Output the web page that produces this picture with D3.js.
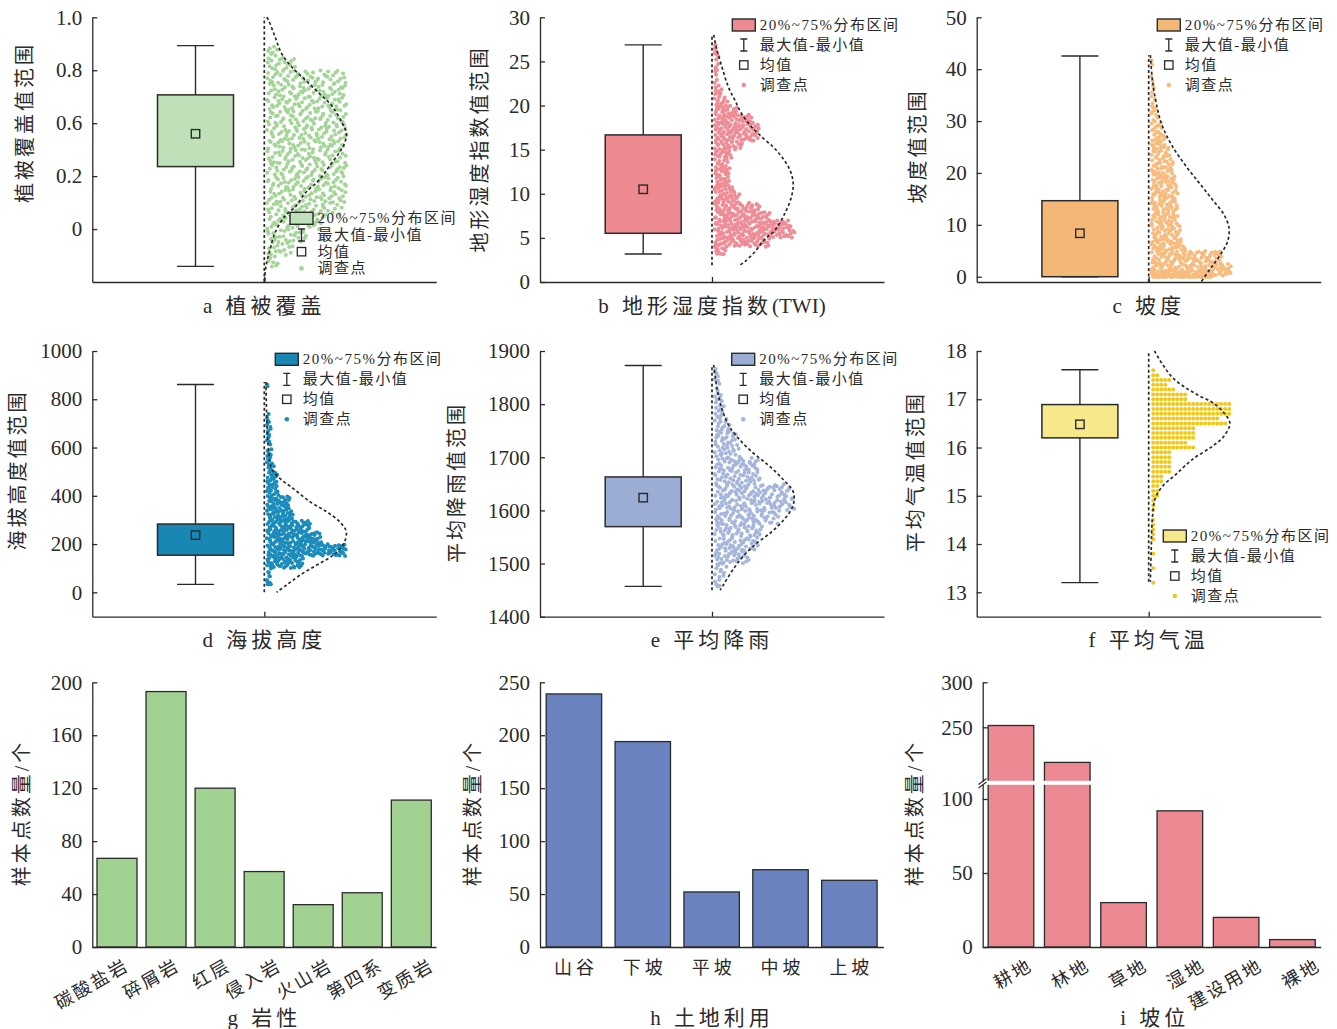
<!DOCTYPE html>
<html><head><meta charset="utf-8">
<script src="https://cdn.jsdelivr.net/npm/d3@7/dist/d3.min.js"></script>
<style>
body{margin:0;background:#fff;}
svg{display:block;font-family:"Liberation Serif","Noto Sans CJK SC",serif;}
</style></head><body>
<svg id="c" width="1337" height="1029"></svg>
<script>
// ---------------- DATA ----------------
const panelTitles = [["a 植被覆盖",""],["b 地形湿度指数","(TWI)"],["c 坡度",""],["d 海拔高度",""],["e 平均降雨",""],["f 平均气温",""],["g 岩性",""],["h 土地利用",""],["i 坡位",""]];
const yTitles = ["植被覆盖值范围","地形湿度指数值范围","坡度值范围","海拔高度值范围","平均降雨值范围","平均气温值范围","样本点数量/个","样本点数量/个","样本点数量/个"];
const legendLabels = ["20%~75%分布区间","最大值-最小值","均值","调查点"];

// box stats: [min, q1, mean, q3, max]
const vegStats   = [0.059, 0.436, 0.56, 0.707, 0.893];
const twiStats   = [3.17, 5.52, 10.51, 16.67, 26.87];
const slopeStats = [0, 0, 8.37, 14.65, 42.55];
const elevStats  = [33, 154, 237, 283, 861];
const rainStats  = [1457, 1569.5, 1624, 1663, 1872.7];
const tempStats  = [13.2, 16.2, 16.48, 16.89, 17.61];

// y tick values and labels
const vegTicks = [0.2, 0.4, 0.6, 0.8, 1.0];
const vegTickLabels = ["0", "0.2", "0.6", "0.8", "1.0"];
const twiTicks = [0, 5, 10, 15, 20, 25, 30];
const slopeTicks = [0, 10, 20, 30, 40, 50];
const elevTicks = [0, 200, 400, 600, 800, 1000];
const rainTicks = [1400, 1500, 1600, 1700, 1800, 1900];
const tempTicks = [13, 14, 15, 16, 17, 18];

// fitted density curves: [value, relative density]
const vegCurve = [[1.0,0.03],[0.99,0.05],[0.927,0.13],[0.864,0.21],[0.814,0.33],[0.763,0.5],[0.713,0.67],[0.663,0.83],[0.6,0.95],[0.562,1.0],[0.525,0.98],[0.487,0.91],[0.436,0.79],[0.386,0.67],[0.336,0.5],[0.285,0.38],[0.248,0.25],[0.185,0.13],[0.122,0.07],[0.059,0.02],[0.0,0.0]];
const twiCurve = [[28.0,0.02],[26.3,0.06],[24.4,0.12],[22.1,0.2],[20.6,0.28],[19.1,0.36],[17.6,0.48],[16.5,0.6],[15.3,0.745],[14.2,0.85],[12.7,0.95],[11.2,0.99],[9.7,0.97],[7.8,0.89],[5.9,0.77],[4.8,0.64],[3.4,0.52],[2.3,0.4],[1.9,0.34]];
const slopeCurve = [[42.7,0.02],[37.3,0.05],[32.1,0.11],[28.9,0.17],[25.1,0.29],[21.2,0.46],[18.0,0.62],[14.8,0.78],[11.9,0.92],[9.3,0.98],[6.7,0.96],[3.9,0.86],[1.3,0.74],[-1.0,0.64]];
const elevCurve = [[872,0.02],[720,0.03],[596,0.05],[513,0.09],[472,0.19],[431,0.35],[375,0.56],[334,0.76],[292,0.92],[251,1.0],[196,0.96],[154,0.84],[113,0.64],[72,0.44],[30,0.27],[0,0.15]];
const rainCurve = [[1874,0.02],[1830,0.06],[1792,0.12],[1761,0.2],[1736,0.32],[1711,0.48],[1686,0.68],[1661,0.85],[1635,0.99],[1610,0.99],[1585,0.89],[1560,0.73],[1535,0.52],[1510,0.36],[1485,0.24],[1460,0.14],[1450,0.1]];
const tempCurve = [[18.0,0.07],[17.72,0.17],[17.45,0.29],[17.24,0.45],[17.07,0.62],[16.93,0.78],[16.75,0.9],[16.51,0.99],[16.24,0.92],[16.03,0.78],[15.75,0.53],[15.44,0.33],[15.2,0.17],[14.95,0.08],[14.54,0.045],[13.84,0.03],[13.22,0.02]];

// survey points, binned: [bin centre value, number of points]
const vegPoints = [[0.875,7],[0.825,18],[0.775,48],[0.725,48],[0.675,48],[0.625,48],[0.575,48],[0.525,48],[0.475,48],[0.425,48],[0.375,48],[0.325,48],[0.275,45],[0.225,34],[0.175,24],[0.125,16],[0.075,7]];
const twiPoints = [[27.5,2],[26.5,2],[25.5,4],[24.5,4],[23.5,2],[22.5,4],[21.5,7],[20.5,12],[19.5,21],[18.5,35],[17.5,40],[16.5,40],[15.5,25],[14.5,16],[13.5,12],[12.5,14],[11.5,14],[10.5,18],[9.5,23],[8.5,41],[7.5,50],[6.5,69],[5.5,72],[4.5,50],[3.5,11]];
const slopePoints = [[41.25,2],[38.75,2],[36.25,3],[33.75,5],[31.25,8],[28.75,12],[26.25,17],[23.75,22],[21.25,25],[18.75,28],[16.25,30],[13.75,30],[11.25,30],[8.75,33],[6.25,38],[3.75,80],[1.25,90],[0,70]];
const elevPoints = [[862,2],[725,4],[675,6],[625,5],[575,7],[525,10],[475,15],[425,16],[375,32],[325,36],[275,60],[225,75],[175,110],[125,50],[75,6],[25,6]];
const rainPoints = [[1862,4],[1837,5],[1812,7],[1787,9],[1762,14],[1737,20],[1712,23],[1687,40],[1662,41],[1637,68],[1612,72],[1587,58],[1562,43],[1537,40],[1512,31],[1487,11],[1462,5]];
const tempPoints = [[17.6,1],[17.5,2],[17.4,5],[17.3,4],[17.2,6],[17.1,9],[17.0,9],[16.9,20],[16.8,20],[16.7,20],[16.6,17],[16.5,19],[16.4,11],[16.3,11],[16.2,11],[16.1,9],[16.0,11],[15.9,5],[15.8,5],[15.7,5],[15.6,5],[15.5,5],[15.4,3],[15.3,3],[15.2,2],[15.1,2],[15.0,2],[14.9,1],[14.8,1],[14.7,1],[14.5,1],[14.4,1],[14.3,1],[14.2,1],[14.1,1],[13.8,1],[13.5,1],[13.2,1]];

// bar charts
const lithoCats = ["碳酸盐岩","碎屑岩","红层","侵入岩","火山岩","第四系","变质岩"];
const lithoVals = [67, 193, 120, 57, 32, 41, 111];
const lithoTicks = [0, 40, 80, 120, 160, 200];
const slopePosCats = ["山谷","下坡","平坡","中坡","上坡"];
const slopePosVals = [239, 194, 52, 73, 63];
const slopePosTicks = [0, 50, 100, 150, 200, 250];
const landCats = ["耕地","林地","草地","湿地","建设用地","裸地"];
const landVals = [252, 211, 30, 92, 20, 5];
const landTicksLow = [0, 50, 100];
const landTicksHigh = [250, 300];

// ---------------- DRAW ----------------
const svg = d3.select("#c");
const ink = "#2a2a2a";

function halton(i, b) { let f = 1, r = 0; while (i > 0) { f /= b; r += f * (i % b); i = Math.floor(i / b); } return r; }

function styleAxis(g) {
  g.selectAll("path,line").attr("stroke", ink).attr("stroke-width", 1.3);
  g.selectAll("text").attr("fill", ink).attr("font-size", 21).attr("font-family", '"Liberation Serif","Noto Sans CJK SC",serif');
}
function yTitle(text, x, y) {
  svg.append("text").attr("transform", `translate(${x},${y}) rotate(-90)`)
    .attr("text-anchor", "middle").attr("dominant-baseline", "central")
    .attr("font-size", 20).attr("letter-spacing", 3).attr("fill", ink).text(text);
}
function title(parts, x, y) {
  const t = svg.append("text").attr("x", x).attr("y", y).attr("text-anchor", "middle")
    .attr("font-size", 21).attr("fill", ink);
  t.append("tspan").attr("letter-spacing", 4).text(parts[0]);
  if (parts[1]) t.append("tspan").attr("letter-spacing", 0).text(parts[1]);
}

function boxPanel(p) {
  const g = svg.append("g");
  const y = d3.scaleLinear().domain(p.domain).range([p.bottom, p.top]);
  const x = d3.scaleLinear().domain([0, 1]).range([p.ax, p.ax + 344]);
  const [mn, q1, mean, q3, mx] = p.stats;

  const ya = g.append("g").attr("transform", `translate(${p.ax},0)`)
    .call(d3.axisLeft(y).tickValues(p.ticks).tickFormat((d, i) => p.tickLabels[i])
      .tickSizeInner(-5).tickSizeOuter(0).tickPadding(10));
  styleAxis(ya);
  const xa = g.append("g").attr("transform", `translate(0,${p.bottom})`)
    .call(d3.axisBottom(x).tickValues([0.5]).tickFormat("").tickSizeInner(-5).tickSizeOuter(0));
  styleAxis(xa);

  const cx = x(0.3), hw = 38, cap = 18.5;
  g.append("line").attr("x1", cx).attr("x2", cx).attr("y1", y(mn)).attr("y2", y(mx)).attr("stroke", ink).attr("stroke-width", 1.4);
  [mn, mx].forEach(v => g.append("line").attr("x1", cx - cap).attr("x2", cx + cap).attr("y1", y(v)).attr("y2", y(v)).attr("stroke", ink).attr("stroke-width", 1.4));
  g.append("rect").attr("x", cx - hw).attr("width", 2 * hw).attr("y", y(q3)).attr("height", y(q1) - y(q3))
    .attr("fill", p.boxFill).attr("stroke", ink).attr("stroke-width", 1.5);
  g.append("rect").attr("x", cx - 4.2).attr("y", y(mean) - 4.2).attr("width", 8.4).attr("height", 8.4)
    .attr("fill", "none").attr("stroke", ink).attr("stroke-width", 1.4);

  // survey points (bins spread with a deterministic Halton layout)
  const base = x(0.5);
  const wScale = d3.scaleLinear().domain([0, p.maxCount]).range([0, 80]);
  let gi = 0;
  const pts = [];
  p.bins.forEach(([c, n]) => {
    for (let k = 0; k < n; k++) {
      gi++;
      let u, v;
      if (p.half === 0) { u = (k + 0.5) / n; v = 0.5; }
      else { u = halton(gi, 2); v = halton(gi, 3); }
      let val = c + (v - 0.5) * 2 * p.half;
      val = Math.max(mn, Math.min(mx, val));
      pts.push([base + 2.5 + u * wScale(n), y(val)]);
    }
  });
  g.append("g").selectAll("circle").data(pts).join("circle")
    .attr("cx", d => d[0]).attr("cy", d => d[1]).attr("r", 2.0).attr("fill", p.ptFill);

  const dx = d3.scaleLinear().domain([0, 1]).range([base, base + 82]);
  const ext = d3.extent(p.curve, d => d[0]);
  g.append("line").attr("x1", base).attr("x2", base).attr("y1", y(ext[0])).attr("y2", y(ext[1]))
    .attr("stroke", ink).attr("stroke-width", 1.7).attr("stroke-dasharray", "3,2.5");
  g.append("path").datum(p.curve)
    .attr("d", d3.line().x(d => dx(d[1])).y(d => y(d[0])).curve(d3.curveCatmullRom))
    .attr("fill", "none").attr("stroke", ink).attr("stroke-width", 1.7).attr("stroke-dasharray", "3,2.5");

  const L = p.legend;
  const lg = g.append("g");
  const sx = L.x + 11.5;
  lg.append("rect").attr("x", L.x).attr("y", L.y - 6).attr("width", 23).attr("height", 12)
    .attr("fill", p.boxFill).attr("stroke", ink).attr("stroke-width", 1.4);
  const r2 = L.y + L.dy, r3 = L.y + 2 * L.dy, r4 = L.y + 3 * L.dy;
  lg.append("path").attr("d", `M${sx-3.5},${r2-6}h7M${sx},${r2-6}v12M${sx-3.5},${r2+6}h7`).attr("stroke", ink).attr("stroke-width", 1.3).attr("fill", "none");
  lg.append("rect").attr("x", sx - 4.2).attr("y", r3 - 4.2).attr("width", 8.4).attr("height", 8.4).attr("fill", "none").attr("stroke", ink).attr("stroke-width", 1.3);
  lg.append("circle").attr("cx", sx).attr("cy", r4).attr("r", 2.3).attr("fill", p.ptFill);
  legendLabels.forEach((t, i) => {
    lg.append("text").attr("x", L.x + 27.5).attr("y", L.y + i * L.dy).attr("dominant-baseline", "central")
      .attr("font-size", 15).attr("letter-spacing", 1.5).attr("fill", ink).text(t);
  });

  yTitle(p.yTitle, p.yTitleX, p.yTitleY);
  title(p.title, p.ax + 172, p.titleY);
}

const row1 = {top: 17.3, bottom: 282, titleY: 313};
const row2 = {top: 351, bottom: 616.7, titleY: 647};
const colX = [92.3, 540, 976.7];

boxPanel({...row1, ax: colX[0], domain: [0, 1], ticks: vegTicks, tickLabels: vegTickLabels, stats: vegStats,
  curve: vegCurve, bins: vegPoints, half: 0.025, maxCount: 48, boxFill: "#bfe0b8", ptFill: "#a2d596",
  legend: {x: 290, y: 218.3, dy: 16.7}, yTitle: yTitles[0], yTitleX: 25, yTitleY: 122.5, title: panelTitles[0]});
boxPanel({...row1, ax: colX[1], domain: [0, 30], ticks: twiTicks, tickLabels: twiTicks.map(String), stats: twiStats,
  curve: twiCurve, bins: twiPoints, half: 0.5, maxCount: 72, boxFill: "#ec8991", ptFill: "#ef8c95",
  legend: {x: 732.3, y: 25, dy: 20}, yTitle: yTitles[1], yTitleX: 480, yTitleY: 149, title: panelTitles[1]});
boxPanel({...row1, ax: colX[2], domain: [-1.02, 50], ticks: slopeTicks, tickLabels: slopeTicks.map(String), stats: slopeStats,
  curve: slopeCurve, bins: slopePoints, half: 1.25, maxCount: 90, boxFill: "#f5b778", ptFill: "#f8bb7d",
  legend: {x: 1157.3, y: 25, dy: 20}, yTitle: yTitles[2], yTitleX: 918.3, yTitleY: 146, title: panelTitles[2]});
boxPanel({...row2, ax: colX[0], domain: [-101, 1000], ticks: elevTicks, tickLabels: elevTicks.map(String), stats: elevStats,
  curve: elevCurve, bins: elevPoints, half: 25, maxCount: 110, boxFill: "#1987b4", ptFill: "#1b8cbb",
  legend: {x: 275.3, y: 359.3, dy: 20}, yTitle: yTitles[3], yTitleX: 18.3, yTitleY: 470, title: panelTitles[3]});
boxPanel({...row2, ax: colX[1], domain: [1400, 1900], ticks: rainTicks, tickLabels: rainTicks.map(String), stats: rainStats,
  curve: rainCurve, bins: rainPoints, half: 12.5, maxCount: 72, boxFill: "#9badd4", ptFill: "#a5b6dd",
  legend: {x: 731.7, y: 359.3, dy: 20}, yTitle: yTitles[4], yTitleX: 457.3, yTitleY: 482.5, title: panelTitles[4]});
boxPanel({...row2, ax: colX[2], domain: [12.494, 18], ticks: tempTicks, tickLabels: tempTicks.map(String), stats: tempStats,
  curve: tempCurve, bins: tempPoints, half: 0, maxCount: 20, boxFill: "#f7e88c", ptFill: "#f2c71c",
  legend: {x: 1163.3, y: 536, dy: 20}, yTitle: yTitles[5], yTitleX: 916, yTitleY: 471.7, title: panelTitles[5]});

// ---------- bar panels ----------
const barBottom = 947, barTop = 682.3;

function barPanel(p) {
  const g = svg.append("g");
  const x = d3.scaleBand().domain(p.cats).range([p.ax, p.ax + p.w]).paddingInner(p.pin).paddingOuter(p.pout);
  const yOf = p.yOf;
  g.selectAll("rect.bar").data(p.vals).join("rect").attr("class", "bar")
    .attr("x", (d, i) => x(p.cats[i])).attr("width", x.bandwidth())
    .attr("y", d => yOf(d)).attr("height", d => barBottom - yOf(d))
    .attr("fill", p.fill).attr("stroke", ink).attr("stroke-width", 1.3);
  if (p.after) p.after(g, x);
  p.yScales.forEach(s => {
    const a = g.append("g").attr("transform", `translate(${p.ax},0)`)
      .call(d3.axisLeft(s.scale).tickValues(s.ticks).tickSizeInner(-5).tickSizeOuter(0).tickPadding(10));
    styleAxis(a);
  });
  const xa = g.append("g").attr("transform", `translate(0,${barBottom})`)
    .call(d3.axisBottom(x).tickSize(0).tickFormat(""));
  styleAxis(xa);
  p.cats.forEach((c, i) => {
    const cx = x(c) + x.bandwidth() / 2;
    if (p.rotate) {
      g.append("text").attr("transform", `translate(${cx + p.ldx + i * p.ldStep},${barBottom + p.ldy}) rotate(-30)`)
        .attr("text-anchor", "end").attr("font-size", 18).attr("letter-spacing", 2.5).attr("fill", ink).text(c);
    } else {
      g.append("text").attr("x", cx + 2).attr("y", 968).attr("text-anchor", "middle").attr("dominant-baseline", "central")
        .attr("font-size", 18).attr("letter-spacing", 4).attr("fill", ink).text(c);
    }
  });
  yTitle(p.yTitle, p.yTitleX, 813);
  title(p.title, p.ax + 172, 1025);
}

const yLitho = d3.scaleLinear().domain([0, 200]).range([barBottom, barTop]);
barPanel({ax: colX[0], w: 343.7, cats: lithoCats, vals: lithoVals, pin: 0.185, pout: 0.096, fill: "#a1d292",
  yOf: v => yLitho(v), yScales: [{scale: yLitho, ticks: lithoTicks}], rotate: true, ldx: 13.5, ldStep: 1.8, ldy: 22,
  yTitle: yTitles[6], yTitleX: 21.7, title: panelTitles[6]});

const ySlopePos = d3.scaleLinear().domain([0, 250]).range([barBottom, barTop]);
barPanel({ax: colX[1], w: 343.3, cats: slopePosCats, vals: slopePosVals, pin: 0.195, pout: 0.09, fill: "#6a82c0",
  yOf: v => ySlopePos(v), yScales: [{scale: ySlopePos, ticks: slopePosTicks}], rotate: false,
  yTitle: yTitles[7], yTitleX: 473.3, title: panelTitles[7]});

const breakLow = 110, breakHigh = 190;
const yLandLow = d3.scaleLinear().domain([0, breakLow]).range([barBottom, 784.2]);
const yLandHigh = d3.scaleLinear().domain([breakHigh, 300]).range([781.3, barTop]);
barPanel({ax: 982.7, w: 338, cats: landCats, vals: landVals, pin: 0.19, pout: 0.097, fill: "#ec8992",
  yOf: v => v > breakLow ? yLandHigh(v) : yLandLow(v),
  yScales: [{scale: yLandLow, ticks: landTicksLow}, {scale: yLandHigh, ticks: landTicksHigh}], rotate: true, ldx: 23, ldStep: 1.3, ldy: 22,
  after: (g, x) => {
    const right = x(landCats[1]) + x.bandwidth() + 2;
    g.append("rect").attr("x", 982.7 - 6).attr("y", 780.8).attr("width", right - 976.7).attr("height", 4).attr("fill", "#fff");
  },
  yTitle: yTitles[8], yTitleX: 915, title: panelTitles[8]});
svg.append("path").attr("d", "M978.5,784.5L986.5,778.5M978.5,788L986.5,782")
  .attr("stroke", ink).attr("stroke-width", 1.1).attr("fill", "none");
</script>
</body></html>
